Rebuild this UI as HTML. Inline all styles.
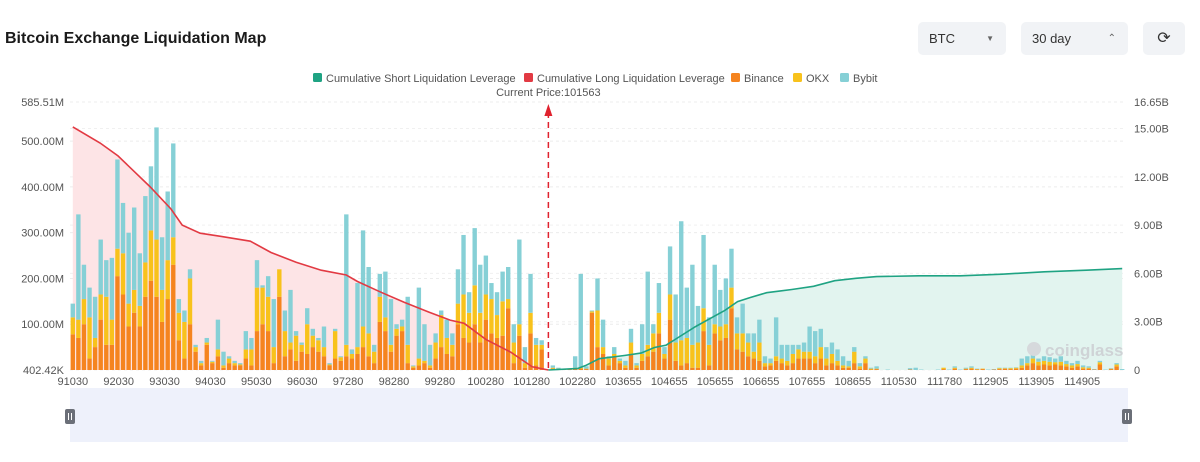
<!DOCTYPE html>
<html><head><meta charset="utf-8">
<style>
body{margin:0;background:#fff;width:1200px;height:462px;overflow:hidden;font-family:"Liberation Sans",sans-serif;}
.title{position:absolute;left:5px;top:30px;font-size:16px;font-weight:bold;color:#1a1a1a;}
.ctl{position:absolute;top:22px;height:33px;background:#f1f3f6;border-radius:5px;font-size:13px;color:#333;line-height:33px;box-sizing:border-box;padding-left:11px;}
</style></head><body>
<div class="title">Bitcoin Exchange Liquidation Map</div>
<div class="ctl" style="left:918px;width:88px;">BTC<span style="position:absolute;right:12px;top:0;font-size:8px;color:#666;">▼</span></div>
<div class="ctl" style="left:1021px;width:107px;">30 day<span style="position:absolute;right:12px;top:0;font-size:10px;color:#666;">⌃</span></div>
<div class="ctl" style="left:1143px;width:42px;padding:0;text-align:center;font-size:16px;">⟳</div>
<svg id="chart" width="1200" height="462" style="position:absolute;left:0;top:0;pointer-events:none"></svg>
<script>
const binance=[78,70,100,25,50,110,55,55,205,165,95,125,95,160,195,160,105,155,230,65,25,100,40,10,55,15,30,5,15,10,10,25,10,85,100,85,15,160,30,45,20,40,35,50,40,30,10,25,20,30,25,35,50,30,15,105,85,40,75,85,15,5,10,15,5,25,50,35,30,100,70,60,100,60,110,80,70,75,135,15,75,5,80,10,45,
0,3,2,1,1,3,3,2,125,50,35,10,30,15,5,35,5,20,30,40,80,25,110,20,10,15,5,5,85,10,80,65,70,135,45,40,30,25,20,8,10,20,15,10,15,25,25,25,15,25,10,15,10,5,5,15,3,15,1,2,0,0,0,0,0,1,0,0,0,0,0,2,0,3,0,2,3,1,2,0,1,2,3,2,3,5,10,15,10,12,10,12,10,8,5,8,3,3,1,12,0,2,8,0];
const okx=[37,40,55,90,20,55,105,55,60,90,50,50,45,75,110,125,70,85,60,60,80,100,10,5,5,3,15,5,10,5,2,20,35,95,80,75,35,60,55,15,55,15,65,25,25,20,2,60,8,25,10,15,45,50,25,55,30,15,15,10,40,3,15,5,5,35,70,35,25,45,95,65,85,65,55,75,50,75,20,45,25,10,45,45,10,
0,2,1,1,1,2,2,1,3,80,15,15,5,5,5,25,5,15,25,40,45,10,55,40,55,55,50,55,50,45,20,30,30,45,35,40,30,15,40,7,5,10,10,10,20,20,15,15,15,25,15,20,10,5,3,25,5,10,2,1,0,0,0,0,0,0,0,0,0,0,0,3,0,2,0,1,2,1,1,0,0,2,1,2,2,5,5,10,8,8,8,5,8,5,5,5,3,2,0,5,0,1,4,0];
const bybit=[30,230,75,65,90,120,80,135,195,110,155,180,115,145,140,245,115,150,205,30,25,20,5,5,10,2,65,30,5,5,3,40,25,60,5,45,105,0,45,115,10,5,35,15,5,45,3,5,2,285,10,140,210,145,15,50,100,100,10,15,105,2,155,80,45,20,10,40,25,75,130,45,125,105,85,35,50,65,70,40,185,35,85,15,10,
0,5,2,1,1,25,205,5,2,70,60,5,15,5,10,30,5,65,160,20,65,15,105,105,260,110,175,80,160,60,130,80,100,85,35,65,20,40,50,15,10,85,30,35,20,10,20,55,55,40,25,25,25,20,12,10,7,5,2,5,0,1,0,0,0,3,5,1,0,0,1,0,1,3,1,2,3,1,0,1,1,1,1,1,1,15,15,10,7,10,10,8,12,7,5,7,4,3,1,3,1,1,3,2];
const longIdx=[0,4.9,8.1,13.8,17.6,19.6,22.8,26.6,31.8,35.5,40,44.5,49,51,55.4,59.4,63.8,67.6,70.1,74,78.5,82.3,85.2];
const longVal=[15.1,14.1,13.3,11.4,10.0,9.0,8.5,8.3,8.0,7.3,6.7,6.2,5.9,5.5,4.8,4.2,3.6,3.1,2.9,1.9,1.1,0.2,0];
const shortIdx=[85.2,90.5,92,94.3,98.8,101.8,104.2,106.3,108.6,111.6,114.7,116.8,119.1,121.3,124.3,126.6,128.8,132.7,136.5,140.3,144,151.5,159,166.5,174,181.6,188];
const shortVal=[0,0.1,0.3,0.7,0.9,1.05,1.4,1.55,2.05,2.7,3.3,3.7,4.25,4.5,4.8,4.9,5.0,5.2,5.55,5.7,5.8,5.85,5.85,5.95,6.1,6.2,6.3];
const xLabels=["91030","92030","93030","94030","95030","96030","97280","98280","99280","100280","101280","102280","103655","104655","105655","106655","107655","108655","110530","111780","112905","113905","114905"];
const leftTicks=[0.40242,100,200,300,400,500,585.51];
const leftTickLabels=["402.42K","100.00M","200.00M","300.00M","400.00M","500.00M","585.51M"];
const rightTicks=[0,3,6,9,12,15,16.65];
const rightTickLabels=["0","3.00B","6.00B","9.00B","12.00B","15.00B","16.65B"];
const currentIdx=85.2;
const currentLabel="Current Price:101563";

const NS="http://www.w3.org/2000/svg",svg=document.getElementById('chart');
const X0=70,X1=1125,YT=102,YB=370,N=binance.length,step=(X1-X0)/N;
const xs=i=>X0+step*(i+0.5);
const yL=v=>YB-(v/585.51)*(YB-YT);
const yR=v=>YB-(v/16.65)*(YB-YT);
function el(t,a,p){const e=document.createElementNS(NS,t);for(const k in a)e.setAttribute(k,a[k]);(p||svg).appendChild(e);return e;}
function txt(x,y,s,a){const e=el('text',Object.assign({x:x,y:y,'font-size':11,fill:'#555','font-family':'Liberation Sans, sans-serif'},a||{}));e.textContent=s;return e;}
leftTicks.forEach((v,i)=>{const g=el('line',{x1:X0,x2:X1,y1:yL(v),y2:yL(v),stroke:'#ececec','stroke-dasharray':'3,3'});


const t=txt(64,yL(v)+4,leftTickLabels[i],{'text-anchor':'end'});

});
rightTicks.forEach((v,i)=>{if(v>0&&v<16.65){const g=el('line',{x1:X0,x2:X1,y1:yR(v),y2:yR(v),stroke:'#f0f0f0','stroke-dasharray':'3,3'});

}
const t=txt(1134,yR(v)+4,rightTickLabels[i]);

});
function path(idx,val){return idx.map((d,i)=>(i?'L':'M')+xs(d).toFixed(1)+','+yR(val[i]).toFixed(1)).join('');}
const la=el('path',{d:path(longIdx,longVal)+'L'+xs(longIdx[longIdx.length-1])+','+YB+'L'+xs(longIdx[0])+','+YB+'Z',fill:'#fde4e6'});


const sa=el('path',{d:path(shortIdx,shortVal)+'L'+xs(shortIdx[shortIdx.length-1])+','+YB+'L'+xs(shortIdx[0])+','+YB+'Z',fill:'#e2f4ef'});


const bw=step-1.2;
for(let i=0;i<N;i++){let base=0;[[binance,'#f5841f'],[okx,'#f8c21c'],[bybit,'#86d0d6']].forEach(([arr,c],j)=>{const v=arr[i];if(v>0){const r=el('rect',{x:xs(i)-bw/2,y:yL(base+v),width:bw,height:yL(base)-yL(base+v),fill:c});

}base+=v;});}
const ll=el('path',{d:path(longIdx,longVal),fill:'none',stroke:'#e23a43','stroke-width':1.6});


const sl=el('path',{d:path(shortIdx,shortVal),fill:'none',stroke:'#1fa383','stroke-width':1.6});


const cx=xs(currentIdx);
const cl=el('line',{x1:cx,x2:cx,y1:112,y2:YB,stroke:'#e0222e','stroke-width':1.5,'stroke-dasharray':'6,4'});


const ca=el('path',{d:`M${cx-4},116L${cx},104L${cx+4},116Z`,fill:'#e0222e'});


const ct=txt(cx,96,currentLabel,{'text-anchor':'middle'});


xLabels.forEach((s,i)=>{const t=txt(xs(i*8.22),385,s,{'text-anchor':'middle'});

});
[["Cumulative Short Liquidation Leverage",'#1fa383',313],["Cumulative Long Liquidation Leverage",'#e23a43',524],["Binance",'#f5841f',731],["OKX",'#f8c21c',793],["Bybit",'#86d0d6',840]].forEach(([s,c,x])=>{
const g=el('g',{});


el('rect',{x:x,y:73,width:9,height:9,rx:1.5,fill:c},g);
const t=txt(x+13,82,s);g.appendChild(t);});
const w=txt(1045,356,'coinglass',{'font-size':17,fill:'#cfd3d6','font-weight':'bold'});


el('circle',{cx:1034,cy:349,r:7,fill:'#d6d9dc'});
const sb=el('rect',{x:70,y:388,width:1058,height:54,fill:'#eef1fb'});


[70,1127].forEach(x=>{const h=el('rect',{x:x-5,y:409,width:10,height:15,rx:2,fill:'#6b6f78'});


el('line',{x1:x-1.5,x2:x-1.5,y1:413,y2:420,stroke:'#fff','stroke-width':1});
el('line',{x1:x+1.5,x2:x+1.5,y1:413,y2:420,stroke:'#fff','stroke-width':1});});
</script>
</body></html>
